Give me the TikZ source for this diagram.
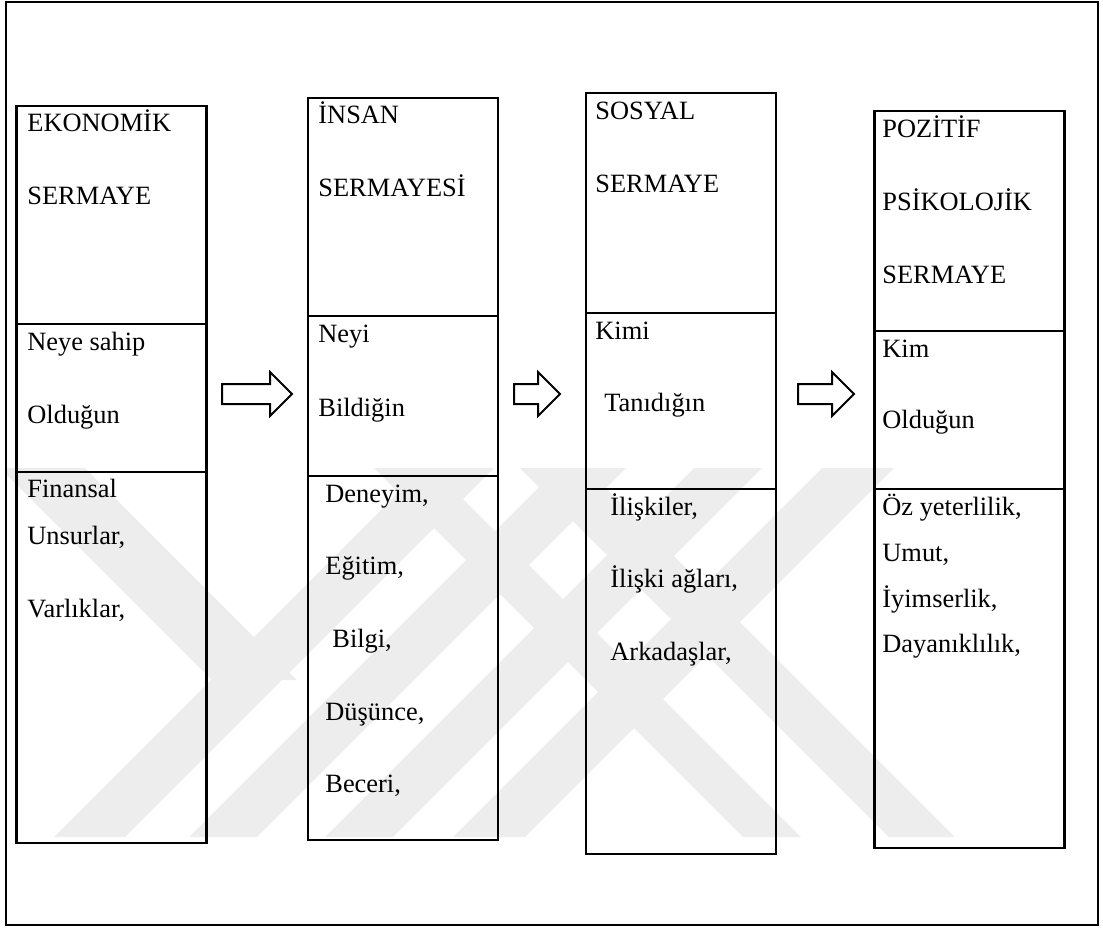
\documentclass[tikz,border=0pt]{standalone}
\usepackage{fontspec}
\setmainfont{Liberation Serif}
\usetikzlibrary{shapes.arrows}

\definecolor{wmgray}{RGB}{237,237,237}

\tikzset{
  capbox/.style={draw, line width=1.1pt, minimum width=95pt, inner sep=0pt},
  divider/.style={line width=0.6pt},
  txt/.style={anchor=base west, inner sep=0pt, font=\fontsize{13.2}{15}\selectfont},
  flowarrow/.style={single arrow, draw, line width=1pt, anchor=tail,
    inner xsep=0pt, inner ysep=4.5pt, single arrow head extend=6pt}
}

\begin{document}
\begin{tikzpicture}[x=0.5pt, y=-0.5pt]
  \useasboundingbox (0,0) rectangle (1103,928);

  % watermark in the background
  \begin{scope}
    \clip (6,2) rectangle (1098,925);
    \fill[wmgray] (0,468) -- (85,468) -- (297,680) -- (212,680) -- cycle;
    \fill[wmgray] (54,837) -- (125,837) -- (494,468) -- (423,468) -- cycle;
    \fill[wmgray] (189,837) -- (257,837) -- (626,468) -- (558,468) -- cycle;
    \fill[wmgray] (325,837) -- (393,837) -- (762,468) -- (694,468) -- cycle;
    \fill[wmgray] (453,837) -- (525,837) -- (894,468) -- (822,468) -- cycle;
    \fill[wmgray] (374,468) -- (432,468) -- (801,837) -- (743,837) -- cycle;
    \fill[wmgray] (520,468) -- (586,468) -- (955,837) -- (889,837) -- cycle;
  \end{scope}

  % outer frame
  \draw[line width=1pt] (6,2) rectangle (1098,925);

  % the four boxes
  \node[capbox, minimum height=368.5pt] (eko) at (111.5,474.5) {};
  \node[capbox, minimum height=371pt] (insan) at (403,469) {};
  \node[capbox, minimum height=380.5pt] (sosyal) at (681,473.5) {};
  \node[capbox, minimum height=368.5pt] (pozitif) at (969.5,479.5) {};

  % dividers
  \draw[divider] (eko.west |- 0,324) -- (eko.east |- 0,324);
  \draw[divider] (eko.west |- 0,472) -- (eko.east |- 0,472);
  \draw[divider] (insan.west |- 0,316) -- (insan.east |- 0,316);
  \draw[divider] (insan.west |- 0,476) -- (insan.east |- 0,476);
  \draw[divider] (sosyal.west |- 0,313) -- (sosyal.east |- 0,313);
  \draw[divider] (sosyal.west |- 0,489) -- (sosyal.east |- 0,489);
  \draw[divider] (pozitif.west |- 0,331) -- (pozitif.east |- 0,331);
  \draw[divider] (pozitif.west |- 0,489) -- (pozitif.east |- 0,489);

  % arrows
  \node[flowarrow, minimum height=35pt] (ok1) at (221,394) {};
  \node[flowarrow, minimum height=23pt] (ok2) at (513,394) {};
  \node[flowarrow, minimum height=28pt] (ok3) at (797,394) {};

  % Ekonomik sermaye
  \node[txt] (eko1) at (27,131.7) {EKONOMİK};
  \node[txt] (eko2) at (27,204) {SERMAYE};
  \node[txt] (eko3) at (27,350) {Neye sahip};
  \node[txt] (eko4) at (27,423) {Olduğun};
  \node[txt] (eko5) at (27,497) {Finansal};
  \node[txt] (eko6) at (27,544) {Unsurlar,};
  \node[txt] (eko7) at (27,617) {Varlıklar,};

  % Insan sermayesi
  \node[txt] (ins1) at (318,123) {İNSAN};
  \node[txt] (ins2) at (318,196) {SERMAYESİ};
  \node[txt] (ins3) at (318,342) {Neyi};
  \node[txt] (ins4) at (318,416) {Bildiğin};
  \node[txt] (ins5) at (325,502) {Deneyim,};
  \node[txt] (ins6) at (325,574) {Eğitim,};
  \node[txt] (ins7) at (332,647) {Bilgi,};
  \node[txt] (ins8) at (325,720) {Düşünce,};
  \node[txt] (ins9) at (325,792) {Beceri,};

  % Sosyal sermaye
  \node[txt] (sos1) at (595,119) {SOSYAL};
  \node[txt] (sos2) at (595,192) {SERMAYE};
  \node[txt] (sos3) at (595,339) {Kimi};
  \node[txt] (sos4) at (604,411) {Tanıdığın};
  \node[txt] (sos5) at (610,515) {İlişkiler,};
  \node[txt] (sos6) at (610,587) {İlişki ağları,};
  \node[txt] (sos7) at (610,660) {Arkadaşlar,};

  % Pozitif psikolojik sermaye
  \node[txt] (poz1) at (882,137) {POZİTİF};
  \node[txt] (poz2) at (882,210) {PSİKOLOJİK};
  \node[txt] (poz3) at (882,283) {SERMAYE};
  \node[txt] (poz4) at (882,357) {Kim};
  \node[txt] (poz5) at (882,428) {Olduğun};
  \node[txt] (poz6) at (882,515) {Öz yeterlilik,};
  \node[txt] (poz7) at (882,561) {Umut,};
  \node[txt] (poz8) at (882,607) {İyimserlik,};
  \node[txt] (poz9) at (882,652) {Dayanıklılık,};
\end{tikzpicture}
\end{document}
